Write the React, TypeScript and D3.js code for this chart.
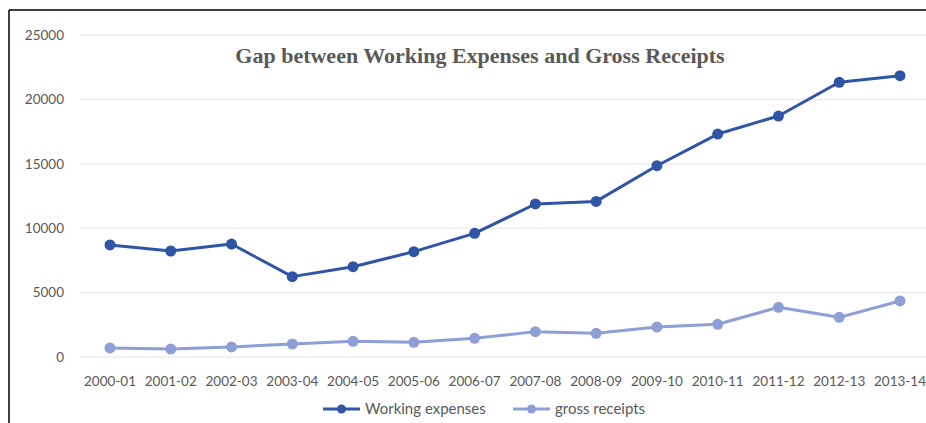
import React from "react";
import * as d3 from "d3";

const categories = ["2000-01","2001-02","2002-03","2003-04","2004-05","2005-06","2006-07","2007-08","2008-09","2009-10","2010-11","2011-12","2012-13","2013-14"];
const workingExpenses = [8700,8230,8770,6240,7010,8180,9600,11880,12080,14850,17310,18710,21330,21840];
const grossReceipts = [700,620,780,1010,1220,1140,1450,1970,1840,2330,2540,3860,3080,4350];
const yTicks = [0,5000,10000,15000,20000,25000];
const seriesNames = ["Working expenses","gross receipts"];
const title = "Gap between Working Expenses and Gross Receipts";

const W = 926, H = 423;
const dark = "#3054A6";
const light = "#8E9FD5";
const labelFont = "Lato, 'Open Sans', sans-serif";

export default function App() {
  const x = d3.scaleBand<string>().domain(categories).range([79.6, 930.4]);
  const cx = (c: string) => (x(c) as number) + x.bandwidth() / 2;
  const y = d3.scaleLinear().domain([0, 25000]).range([357, 35]);
  const line = d3.line<number>().x((_, i) => cx(categories[i])).y(d => y(d));
  const series = [
    { name: seriesNames[0], data: workingExpenses, color: dark },
    { name: seriesNames[1], data: grossReceipts, color: light },
  ];
  const legendX = [323, 513];
  return (
    <svg width={W} height={H} style={{ position: "absolute", left: 0, top: 0, background: "#fff" }}>
      <rect x={0} y={0} width={W} height={H} fill="#fff" />
      <line x1={9} x2={9} y1={10} y2={H} stroke="#000" strokeWidth={1.5} />
      <line x1={9} x2={W} y1={10} y2={10} stroke="#000" strokeWidth={1.5} />
      {yTicks.map(t => (
        <g key={t}>
          <line x1={80} x2={W} y1={y(t)} y2={y(t)} stroke="#e4e4e4" strokeWidth={1} />
          <text x={64} y={y(t)} dy="0.35em" textAnchor="end" fontFamily={labelFont} fontSize={13.5} fill="#595959">{t}</text>
        </g>
      ))}
      {categories.map(c => (
        <text key={c} x={cx(c)} y={386} textAnchor="middle" fontFamily={labelFont} fontSize={13.5} fill="#595959">{c}</text>
      ))}
      <text x={480} y={63} textAnchor="middle" fontFamily="'Liberation Serif', 'Times New Roman', serif" fontWeight="bold" fontSize={22} fill="#595959">{title}</text>
      {series.map(s => (
        <g key={s.name}>
          <path d={line(s.data) as string} fill="none" stroke={s.color} strokeWidth={3} strokeLinejoin="round" />
          {s.data.map((v, i) => (
            <circle key={i} cx={cx(categories[i])} cy={y(v)} r={5.5} fill={s.color} />
          ))}
        </g>
      ))}
      {series.map((s, i) => (
        <g key={s.name} transform={`translate(${legendX[i]},409)`}>
          <line x1={0} x2={37} y1={0} y2={0} stroke={s.color} strokeWidth={3} />
          <circle cx={18.5} cy={0} r={4.5} fill={s.color} />
          <text x={42} y={0} dy="0.35em" fontFamily={labelFont} fontSize={15} fill="#595959">{s.name}</text>
        </g>
      ))}
    </svg>
  );
}
